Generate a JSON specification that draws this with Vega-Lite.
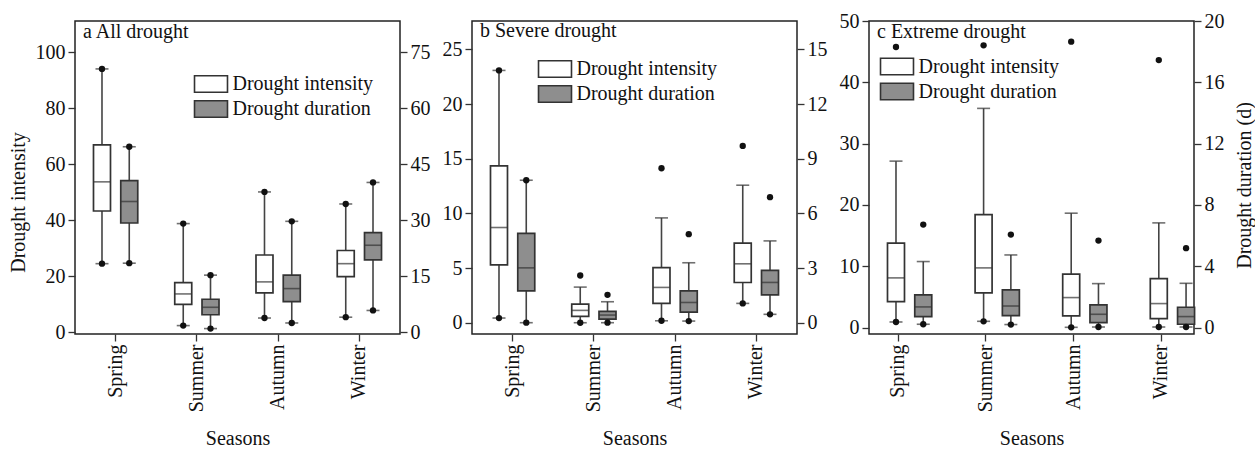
{
"$schema": "https://vega.github.io/schema/vega-lite/v6.json",
"padding": {"left": 7, "top": 10, "right": 0, "bottom": 0},
"background": "white",
"bounds": "flush",
"spacing": 72,
"resolve": {"scale": {"fill": "independent"}, "legend": {"fill": "independent"}},
"datasets": {
"labels": [
{"p":"a","label":"a All drought"},
{"p":"b","label":"b Severe drought"},
{"p":"c","label":"c Extreme drought"}
],
"boxes": [
{"p":"a","season":"Spring","var":"Drought intensity","lo":24.5,"q1":43.3,"med":53.7,"q3":66.9,"hi":94.0},
{"p":"a","season":"Spring","var":"Drought duration","lo":18.5,"q1":29.25,"med":35.0,"q3":40.6,"hi":49.65},
{"p":"a","season":"Summer","var":"Drought intensity","lo":2.4,"q1":10.0,"med":13.7,"q3":17.7,"hi":38.8},
{"p":"a","season":"Summer","var":"Drought duration","lo":1.0,"q1":4.7,"med":6.7,"q3":8.85,"hi":15.3},
{"p":"a","season":"Autumn","var":"Drought intensity","lo":5.1,"q1":14.1,"med":18.0,"q3":27.6,"hi":50.1},
{"p":"a","season":"Autumn","var":"Drought duration","lo":2.5,"q1":8.2,"med":11.7,"q3":15.3,"hi":29.7},
{"p":"a","season":"Winter","var":"Drought intensity","lo":5.4,"q1":19.9,"med":24.5,"q3":29.2,"hi":45.8},
{"p":"a","season":"Winter","var":"Drought duration","lo":5.85,"q1":19.4,"med":23.3,"q3":26.7,"hi":40.1},
{"p":"b","season":"Spring","var":"Drought intensity","lo":0.43,"q1":5.30,"med":8.71,"q3":14.34,"hi":23.08},
{"p":"b","season":"Spring","var":"Drought duration","lo":0.0,"q1":1.75,"med":3.01,"q3":4.90,"hi":7.82},
{"p":"b","season":"Summer","var":"Drought intensity","lo":0.0,"q1":0.58,"med":1.13,"q3":1.71,"hi":3.26},
{"p":"b","season":"Summer","var":"Drought duration","lo":0.0,"q1":0.2,"med":0.42,"q3":0.62,"hi":1.15},
{"p":"b","season":"Autumn","var":"Drought intensity","lo":0.18,"q1":1.77,"med":3.23,"q3":5.05,"hi":9.59},
{"p":"b","season":"Autumn","var":"Drought duration","lo":0.09,"q1":0.58,"med":1.11,"q3":1.75,"hi":3.29},
{"p":"b","season":"Winter","var":"Drought intensity","lo":1.77,"q1":3.68,"med":5.39,"q3":7.28,"hi":12.58},
{"p":"b","season":"Winter","var":"Drought duration","lo":0.46,"q1":1.53,"med":2.21,"q3":2.87,"hi":4.49},
{"p":"c","season":"Spring","var":"Drought intensity","lo":0.92,"q1":4.24,"med":8.11,"q3":13.77,"hi":27.15},
{"p":"c","season":"Spring","var":"Drought duration","lo":0.22,"q1":0.72,"med":1.35,"q3":2.13,"hi":4.31},
{"p":"c","season":"Summer","var":"Drought intensity","lo":1.03,"q1":5.66,"med":9.74,"q3":18.44,"hi":35.75},
{"p":"c","season":"Summer","var":"Drought duration","lo":0.2,"q1":0.78,"med":1.41,"q3":2.46,"hi":4.74},
{"p":"c","season":"Autumn","var":"Drought intensity","lo":0.05,"q1":1.90,"med":4.90,"q3":8.71,"hi":18.66},
{"p":"c","season":"Autumn","var":"Drought duration","lo":0.04,"q1":0.33,"med":0.87,"q3":1.48,"hi":2.87},
{"p":"c","season":"Winter","var":"Drought intensity","lo":0.1,"q1":1.47,"med":3.92,"q3":8.0,"hi":17.08},
{"p":"c","season":"Winter","var":"Drought duration","lo":0.04,"q1":0.22,"med":0.72,"q3":1.33,"hi":2.89}
],
"dots": [
{"p":"a","season":"Spring","var":"Drought intensity","value":24.5},
{"p":"a","season":"Spring","var":"Drought intensity","value":94.0},
{"p":"a","season":"Spring","var":"Drought duration","value":18.5},
{"p":"a","season":"Spring","var":"Drought duration","value":49.65},
{"p":"a","season":"Summer","var":"Drought intensity","value":2.4},
{"p":"a","season":"Summer","var":"Drought intensity","value":38.8},
{"p":"a","season":"Summer","var":"Drought duration","value":1.0},
{"p":"a","season":"Summer","var":"Drought duration","value":15.3},
{"p":"a","season":"Autumn","var":"Drought intensity","value":5.1},
{"p":"a","season":"Autumn","var":"Drought intensity","value":50.1},
{"p":"a","season":"Autumn","var":"Drought duration","value":2.5},
{"p":"a","season":"Autumn","var":"Drought duration","value":29.7},
{"p":"a","season":"Winter","var":"Drought intensity","value":5.4},
{"p":"a","season":"Winter","var":"Drought intensity","value":45.8},
{"p":"a","season":"Winter","var":"Drought duration","value":5.85},
{"p":"a","season":"Winter","var":"Drought duration","value":40.1},
{"p":"b","season":"Spring","var":"Drought intensity","value":0.43},
{"p":"b","season":"Spring","var":"Drought intensity","value":23.08},
{"p":"b","season":"Spring","var":"Drought duration","value":0.0},
{"p":"b","season":"Spring","var":"Drought duration","value":7.82},
{"p":"b","season":"Summer","var":"Drought intensity","value":0.0},
{"p":"b","season":"Summer","var":"Drought intensity","value":4.32},
{"p":"b","season":"Summer","var":"Drought duration","value":0.0},
{"p":"b","season":"Summer","var":"Drought duration","value":1.53},
{"p":"b","season":"Autumn","var":"Drought intensity","value":0.18},
{"p":"b","season":"Autumn","var":"Drought intensity","value":14.13},
{"p":"b","season":"Autumn","var":"Drought duration","value":0.09},
{"p":"b","season":"Autumn","var":"Drought duration","value":4.86},
{"p":"b","season":"Winter","var":"Drought intensity","value":1.77},
{"p":"b","season":"Winter","var":"Drought intensity","value":16.17},
{"p":"b","season":"Winter","var":"Drought duration","value":0.46},
{"p":"b","season":"Winter","var":"Drought duration","value":6.89},
{"p":"c","season":"Spring","var":"Drought intensity","value":0.92},
{"p":"c","season":"Spring","var":"Drought intensity","value":45.76},
{"p":"c","season":"Spring","var":"Drought duration","value":0.22},
{"p":"c","season":"Spring","var":"Drought duration","value":6.72},
{"p":"c","season":"Summer","var":"Drought intensity","value":1.03},
{"p":"c","season":"Summer","var":"Drought intensity","value":46.03},
{"p":"c","season":"Summer","var":"Drought duration","value":0.2},
{"p":"c","season":"Summer","var":"Drought duration","value":6.07},
{"p":"c","season":"Autumn","var":"Drought intensity","value":0.05},
{"p":"c","season":"Autumn","var":"Drought intensity","value":46.63},
{"p":"c","season":"Autumn","var":"Drought duration","value":0.04},
{"p":"c","season":"Autumn","var":"Drought duration","value":5.68},
{"p":"c","season":"Winter","var":"Drought intensity","value":0.1},
{"p":"c","season":"Winter","var":"Drought intensity","value":43.63},
{"p":"c","season":"Winter","var":"Drought duration","value":0.04},
{"p":"c","season":"Winter","var":"Drought duration","value":5.18}
]
},
"hconcat": [
{
"width": 325, "height": 313,
"encoding": {
"x": {"field": "season", "type": "nominal", "sort": null, "scale": {"domain": ["Spring","Summer","Autumn","Winter"], "paddingInner": 0, "paddingOuter": 0}, "axis": {"title": "Seasons", "labelAngle": 270, "titlePadding": 17}},
"xOffset": {"field": "var", "type": "nominal", "sort": null, "scale": {"domain": ["Drought intensity","Drought duration"], "paddingInner": 0, "paddingOuter": 0.49}}
},
"layer": [
{"layer": [
{"data": {"name": "boxes"}, "transform": [{"filter": "datum.p==='a' && datum.var==='Drought intensity'"}], "mark": {"type": "rule", "color": "#444", "strokeWidth": 1.6}, "encoding": {"y": {"field": "lo", "type": "quantitative", "scale": {"domain": [-0.6, 111.1], "nice": false, "zero": false}, "axis": {"orient": "left", "values": [0,20,40,60,80,100], "title": "Drought intensity", "titlePadding": 7, "titleY": 181, "labelFlush": false}}, "y2": {"field": "hi"}}},
{"data": {"name": "boxes"}, "transform": [{"filter": "datum.p==='a' && datum.var==='Drought intensity'"}, {"fold": ["lo","hi"], "as": ["k","value"]}], "mark": {"type": "tick", "color": "#333", "size": 13, "thickness": 1.6}, "encoding": {"y": {"field": "value", "type": "quantitative", "scale": {"domain": [-0.6, 111.1], "nice": false, "zero": false}, "axis": {"orient": "left", "values": [0,20,40,60,80,100], "title": "Drought intensity", "titlePadding": 7, "titleY": 181, "labelFlush": false}}}},
{"data": {"name": "boxes"}, "transform": [{"filter": "datum.p==='a' && datum.var==='Drought intensity'"}], "mark": {"type": "bar", "width": 17, "stroke": "#333", "strokeWidth": 1.7}, "encoding": {"y": {"field": "q1", "type": "quantitative", "scale": {"domain": [-0.6, 111.1], "nice": false, "zero": false}, "axis": {"orient": "left", "values": [0,20,40,60,80,100], "title": "Drought intensity", "titlePadding": 7, "titleY": 181, "labelFlush": false}}, "y2": {"field": "q3"}, "fill": {"field": "var", "type": "nominal", "sort": null, "scale": {"domain": ["Drought intensity","Drought duration"], "range": ["#ffffff","#8e8e8e"]}, "legend": {"orient": "none", "legendX": 126, "legendY": 53, "title": null, "symbolType": "M-2,-1H2V1H-2Z", "symbolSize": 272, "symbolStrokeColor": "#333", "symbolStrokeWidth": 1.6, "rowPadding": 1, "labelOffset": 11.5, "padding": 0}}}},
{"data": {"name": "boxes"}, "transform": [{"filter": "datum.p==='a' && datum.var==='Drought intensity'"}], "mark": {"type": "tick", "color": "#333", "size": 17, "thickness": 1.6}, "encoding": {"y": {"field": "med", "type": "quantitative", "scale": {"domain": [-0.6, 111.1], "nice": false, "zero": false}, "axis": {"orient": "left", "values": [0,20,40,60,80,100], "title": "Drought intensity", "titlePadding": 7, "titleY": 181, "labelFlush": false}}}},
{"data": {"name": "dots"}, "transform": [{"filter": "datum.p==='a' && datum.var==='Drought intensity'"}], "mark": {"type": "point", "filled": true, "color": "#111", "size": 40, "opacity": 1}, "encoding": {"y": {"field": "value", "type": "quantitative", "scale": {"domain": [-0.6, 111.1], "nice": false, "zero": false}, "axis": {"orient": "left", "values": [0,20,40,60,80,100], "title": "Drought intensity", "titlePadding": 7, "titleY": 181, "labelFlush": false}}}},
{"data": {"name": "labels"}, "transform": [{"filter": "datum.p==='a'"}], "mark": {"type": "text", "align": "left", "baseline": "alphabetic", "dx": 8, "dy": 17, "fontSize": 20, "font": "Liberation Serif", "color": "#111"}, "encoding": {"x": {"datum": "Spring", "bandPosition": 0, "scale": {"domain": ["Spring","Summer","Autumn","Winter"], "paddingInner": 0, "paddingOuter": 0}, "axis": {"title": "Seasons", "labelAngle": 270, "titlePadding": 17}}, "xOffset": {"value": 0}, "y": {"datum": 111.1, "type": "quantitative", "scale": {"domain": [-0.6, 111.1], "nice": false, "zero": false}, "axis": {"orient": "left", "values": [0,20,40,60,80,100], "title": "Drought intensity", "titlePadding": 7, "titleY": 181, "labelFlush": false}}, "text": {"field": "label"}}}
]},
{"layer": [
{"data": {"name": "boxes"}, "transform": [{"filter": "datum.p==='a' && datum.var==='Drought duration'"}], "mark": {"type": "rule", "color": "#444", "strokeWidth": 1.6}, "encoding": {"y": {"field": "lo", "type": "quantitative", "scale": {"domain": [-0.45, 83.3], "nice": false, "zero": false}, "axis": {"orient": "right", "values": [0,15,30,45,60,75], "title": null, "labelFlush": false}}, "y2": {"field": "hi"}}},
{"data": {"name": "boxes"}, "transform": [{"filter": "datum.p==='a' && datum.var==='Drought duration'"}, {"fold": ["lo","hi"], "as": ["k","value"]}], "mark": {"type": "tick", "color": "#333", "size": 13, "thickness": 1.6}, "encoding": {"y": {"field": "value", "type": "quantitative", "scale": {"domain": [-0.45, 83.3], "nice": false, "zero": false}, "axis": {"orient": "right", "values": [0,15,30,45,60,75], "title": null, "labelFlush": false}}}},
{"data": {"name": "boxes"}, "transform": [{"filter": "datum.p==='a' && datum.var==='Drought duration'"}], "mark": {"type": "bar", "width": 17, "stroke": "#333", "strokeWidth": 1.7}, "encoding": {"y": {"field": "q1", "type": "quantitative", "scale": {"domain": [-0.45, 83.3], "nice": false, "zero": false}, "axis": {"orient": "right", "values": [0,15,30,45,60,75], "title": null, "labelFlush": false}}, "y2": {"field": "q3"}, "fill": {"field": "var", "type": "nominal", "sort": null, "scale": {"domain": ["Drought intensity","Drought duration"], "range": ["#ffffff","#8e8e8e"]}, "legend": {"orient": "none", "legendX": 126, "legendY": 53, "title": null, "symbolType": "M-2,-1H2V1H-2Z", "symbolSize": 272, "symbolStrokeColor": "#333", "symbolStrokeWidth": 1.6, "rowPadding": 1, "labelOffset": 11.5, "padding": 0}}}},
{"data": {"name": "boxes"}, "transform": [{"filter": "datum.p==='a' && datum.var==='Drought duration'"}], "mark": {"type": "tick", "color": "#333", "size": 17, "thickness": 1.6}, "encoding": {"y": {"field": "med", "type": "quantitative", "scale": {"domain": [-0.45, 83.3], "nice": false, "zero": false}, "axis": {"orient": "right", "values": [0,15,30,45,60,75], "title": null, "labelFlush": false}}}},
{"data": {"name": "dots"}, "transform": [{"filter": "datum.p==='a' && datum.var==='Drought duration'"}], "mark": {"type": "point", "filled": true, "color": "#111", "size": 40, "opacity": 1}, "encoding": {"y": {"field": "value", "type": "quantitative", "scale": {"domain": [-0.45, 83.3], "nice": false, "zero": false}, "axis": {"orient": "right", "values": [0,15,30,45,60,75], "title": null, "labelFlush": false}}}}
]}
],
"resolve": {"scale": {"y": "independent"}}
},
{
"width": 325, "height": 313,
"encoding": {
"x": {"field": "season", "type": "nominal", "sort": null, "scale": {"domain": ["Spring","Summer","Autumn","Winter"], "paddingInner": 0, "paddingOuter": 0}, "axis": {"title": "Seasons", "labelAngle": 270, "titlePadding": 17}},
"xOffset": {"field": "var", "type": "nominal", "sort": null, "scale": {"domain": ["Drought intensity","Drought duration"], "paddingInner": 0, "paddingOuter": 0.49}}
},
"layer": [
{"layer": [
{"data": {"name": "boxes"}, "transform": [{"filter": "datum.p==='b' && datum.var==='Drought intensity'"}], "mark": {"type": "rule", "color": "#444", "strokeWidth": 1.6}, "encoding": {"y": {"field": "lo", "type": "quantitative", "scale": {"domain": [-1.03, 27.6], "nice": false, "zero": false}, "axis": {"orient": "left", "values": [0,5,10,15,20,25], "title": null, "labelFlush": false}}, "y2": {"field": "hi"}}},
{"data": {"name": "boxes"}, "transform": [{"filter": "datum.p==='b' && datum.var==='Drought intensity'"}, {"fold": ["lo","hi"], "as": ["k","value"]}], "mark": {"type": "tick", "color": "#333", "size": 13, "thickness": 1.6}, "encoding": {"y": {"field": "value", "type": "quantitative", "scale": {"domain": [-1.03, 27.6], "nice": false, "zero": false}, "axis": {"orient": "left", "values": [0,5,10,15,20,25], "title": null, "labelFlush": false}}}},
{"data": {"name": "boxes"}, "transform": [{"filter": "datum.p==='b' && datum.var==='Drought intensity'"}], "mark": {"type": "bar", "width": 17, "stroke": "#333", "strokeWidth": 1.7}, "encoding": {"y": {"field": "q1", "type": "quantitative", "scale": {"domain": [-1.03, 27.6], "nice": false, "zero": false}, "axis": {"orient": "left", "values": [0,5,10,15,20,25], "title": null, "labelFlush": false}}, "y2": {"field": "q3"}, "fill": {"field": "var", "type": "nominal", "sort": null, "scale": {"domain": ["Drought intensity","Drought duration"], "range": ["#ffffff","#8e8e8e"]}, "legend": {"orient": "none", "legendX": 73, "legendY": 38, "title": null, "symbolType": "M-2,-1H2V1H-2Z", "symbolSize": 272, "symbolStrokeColor": "#333", "symbolStrokeWidth": 1.6, "rowPadding": 1, "labelOffset": 11.5, "padding": 0}}}},
{"data": {"name": "boxes"}, "transform": [{"filter": "datum.p==='b' && datum.var==='Drought intensity'"}], "mark": {"type": "tick", "color": "#333", "size": 17, "thickness": 1.6}, "encoding": {"y": {"field": "med", "type": "quantitative", "scale": {"domain": [-1.03, 27.6], "nice": false, "zero": false}, "axis": {"orient": "left", "values": [0,5,10,15,20,25], "title": null, "labelFlush": false}}}},
{"data": {"name": "dots"}, "transform": [{"filter": "datum.p==='b' && datum.var==='Drought intensity'"}], "mark": {"type": "point", "filled": true, "color": "#111", "size": 40, "opacity": 1}, "encoding": {"y": {"field": "value", "type": "quantitative", "scale": {"domain": [-1.03, 27.6], "nice": false, "zero": false}, "axis": {"orient": "left", "values": [0,5,10,15,20,25], "title": null, "labelFlush": false}}}},
{"data": {"name": "labels"}, "transform": [{"filter": "datum.p==='b'"}], "mark": {"type": "text", "align": "left", "baseline": "alphabetic", "dx": 8, "dy": 16, "fontSize": 20, "font": "Liberation Serif", "color": "#111"}, "encoding": {"x": {"datum": "Spring", "bandPosition": 0, "scale": {"domain": ["Spring","Summer","Autumn","Winter"], "paddingInner": 0, "paddingOuter": 0}, "axis": {"title": "Seasons", "labelAngle": 270, "titlePadding": 17}}, "xOffset": {"value": 0}, "y": {"datum": 27.6, "type": "quantitative", "scale": {"domain": [-1.03, 27.6], "nice": false, "zero": false}, "axis": {"orient": "left", "values": [0,5,10,15,20,25], "title": null, "labelFlush": false}}, "text": {"field": "label"}}}
]},
{"layer": [
{"data": {"name": "boxes"}, "transform": [{"filter": "datum.p==='b' && datum.var==='Drought duration'"}], "mark": {"type": "rule", "color": "#444", "strokeWidth": 1.6}, "encoding": {"y": {"field": "lo", "type": "quantitative", "scale": {"domain": [-0.62, 16.56], "nice": false, "zero": false}, "axis": {"orient": "right", "values": [0,3,6,9,12,15], "title": null, "labelFlush": false}}, "y2": {"field": "hi"}}},
{"data": {"name": "boxes"}, "transform": [{"filter": "datum.p==='b' && datum.var==='Drought duration'"}, {"fold": ["lo","hi"], "as": ["k","value"]}], "mark": {"type": "tick", "color": "#333", "size": 13, "thickness": 1.6}, "encoding": {"y": {"field": "value", "type": "quantitative", "scale": {"domain": [-0.62, 16.56], "nice": false, "zero": false}, "axis": {"orient": "right", "values": [0,3,6,9,12,15], "title": null, "labelFlush": false}}}},
{"data": {"name": "boxes"}, "transform": [{"filter": "datum.p==='b' && datum.var==='Drought duration'"}], "mark": {"type": "bar", "width": 17, "stroke": "#333", "strokeWidth": 1.7}, "encoding": {"y": {"field": "q1", "type": "quantitative", "scale": {"domain": [-0.62, 16.56], "nice": false, "zero": false}, "axis": {"orient": "right", "values": [0,3,6,9,12,15], "title": null, "labelFlush": false}}, "y2": {"field": "q3"}, "fill": {"field": "var", "type": "nominal", "sort": null, "scale": {"domain": ["Drought intensity","Drought duration"], "range": ["#ffffff","#8e8e8e"]}, "legend": {"orient": "none", "legendX": 73, "legendY": 38, "title": null, "symbolType": "M-2,-1H2V1H-2Z", "symbolSize": 272, "symbolStrokeColor": "#333", "symbolStrokeWidth": 1.6, "rowPadding": 1, "labelOffset": 11.5, "padding": 0}}}},
{"data": {"name": "boxes"}, "transform": [{"filter": "datum.p==='b' && datum.var==='Drought duration'"}], "mark": {"type": "tick", "color": "#333", "size": 17, "thickness": 1.6}, "encoding": {"y": {"field": "med", "type": "quantitative", "scale": {"domain": [-0.62, 16.56], "nice": false, "zero": false}, "axis": {"orient": "right", "values": [0,3,6,9,12,15], "title": null, "labelFlush": false}}}},
{"data": {"name": "dots"}, "transform": [{"filter": "datum.p==='b' && datum.var==='Drought duration'"}], "mark": {"type": "point", "filled": true, "color": "#111", "size": 40, "opacity": 1}, "encoding": {"y": {"field": "value", "type": "quantitative", "scale": {"domain": [-0.62, 16.56], "nice": false, "zero": false}, "axis": {"orient": "right", "values": [0,3,6,9,12,15], "title": null, "labelFlush": false}}}}
]}
],
"resolve": {"scale": {"y": "independent"}}
},
{
"width": 325, "height": 313,
"encoding": {
"x": {"field": "season", "type": "nominal", "sort": null, "scale": {"domain": ["Spring","Summer","Autumn","Winter"], "paddingInner": 0.33, "paddingOuter": 0.02, "align": 0}, "axis": {"title": "Seasons", "labelAngle": 270, "titlePadding": 17}},
"xOffset": {"field": "var", "type": "nominal", "sort": null, "scale": {"domain": ["Drought intensity","Drought duration"], "paddingInner": 0, "paddingOuter": 0.012}}
},
"layer": [
{"layer": [
{"data": {"name": "boxes"}, "transform": [{"filter": "datum.p==='c' && datum.var==='Drought intensity'"}], "mark": {"type": "rule", "color": "#444", "strokeWidth": 1.6}, "encoding": {"y": {"field": "lo", "type": "quantitative", "scale": {"domain": [-1.04, 50], "nice": false, "zero": false}, "axis": {"orient": "left", "values": [0,10,20,30,40,50], "title": null, "labelFlush": false}}, "y2": {"field": "hi"}}},
{"data": {"name": "boxes"}, "transform": [{"filter": "datum.p==='c' && datum.var==='Drought intensity'"}, {"fold": ["lo","hi"], "as": ["k","value"]}], "mark": {"type": "tick", "color": "#333", "size": 13, "thickness": 1.6}, "encoding": {"y": {"field": "value", "type": "quantitative", "scale": {"domain": [-1.04, 50], "nice": false, "zero": false}, "axis": {"orient": "left", "values": [0,10,20,30,40,50], "title": null, "labelFlush": false}}}},
{"data": {"name": "boxes"}, "transform": [{"filter": "datum.p==='c' && datum.var==='Drought intensity'"}], "mark": {"type": "bar", "width": 17, "stroke": "#333", "strokeWidth": 1.7}, "encoding": {"y": {"field": "q1", "type": "quantitative", "scale": {"domain": [-1.04, 50], "nice": false, "zero": false}, "axis": {"orient": "left", "values": [0,10,20,30,40,50], "title": null, "labelFlush": false}}, "y2": {"field": "q3"}, "fill": {"field": "var", "type": "nominal", "sort": null, "scale": {"domain": ["Drought intensity","Drought duration"], "range": ["#ffffff","#8e8e8e"]}, "legend": {"orient": "none", "legendX": 18, "legendY": 35.5, "title": null, "symbolType": "M-2,-1H2V1H-2Z", "symbolSize": 272, "symbolStrokeColor": "#333", "symbolStrokeWidth": 1.6, "rowPadding": 1, "labelOffset": 11.5, "padding": 0}}}},
{"data": {"name": "boxes"}, "transform": [{"filter": "datum.p==='c' && datum.var==='Drought intensity'"}], "mark": {"type": "tick", "color": "#333", "size": 17, "thickness": 1.6}, "encoding": {"y": {"field": "med", "type": "quantitative", "scale": {"domain": [-1.04, 50], "nice": false, "zero": false}, "axis": {"orient": "left", "values": [0,10,20,30,40,50], "title": null, "labelFlush": false}}}},
{"data": {"name": "dots"}, "transform": [{"filter": "datum.p==='c' && datum.var==='Drought intensity'"}], "mark": {"type": "point", "filled": true, "color": "#111", "size": 40, "opacity": 1}, "encoding": {"y": {"field": "value", "type": "quantitative", "scale": {"domain": [-1.04, 50], "nice": false, "zero": false}, "axis": {"orient": "left", "values": [0,10,20,30,40,50], "title": null, "labelFlush": false}}}},
{"data": {"name": "labels"}, "transform": [{"filter": "datum.p==='c'"}], "mark": {"type": "text", "align": "left", "baseline": "alphabetic", "dx": 8, "dy": 17, "fontSize": 20, "font": "Liberation Serif", "color": "#111"}, "encoding": {"x": {"datum": "Spring", "bandPosition": 0, "scale": {"domain": ["Spring","Summer","Autumn","Winter"], "paddingInner": 0.33, "paddingOuter": 0.02, "align": 0}, "axis": {"title": "Seasons", "labelAngle": 270, "titlePadding": 17}}, "xOffset": {"value": 0}, "y": {"datum": 50, "type": "quantitative", "scale": {"domain": [-1.04, 50], "nice": false, "zero": false}, "axis": {"orient": "left", "values": [0,10,20,30,40,50], "title": null, "labelFlush": false}}, "text": {"field": "label"}}}
]},
{"layer": [
{"data": {"name": "boxes"}, "transform": [{"filter": "datum.p==='c' && datum.var==='Drought duration'"}], "mark": {"type": "rule", "color": "#444", "strokeWidth": 1.6}, "encoding": {"y": {"field": "lo", "type": "quantitative", "scale": {"domain": [-0.416, 20], "nice": false, "zero": false}, "axis": {"orient": "right", "values": [0,4,8,12,16,20], "title": "Drought duration (d)", "titleAngle": 270, "titleBaseline": "top", "titlePadding": 10, "titleY": 164, "labelFlush": false}}, "y2": {"field": "hi"}}},
{"data": {"name": "boxes"}, "transform": [{"filter": "datum.p==='c' && datum.var==='Drought duration'"}, {"fold": ["lo","hi"], "as": ["k","value"]}], "mark": {"type": "tick", "color": "#333", "size": 13, "thickness": 1.6}, "encoding": {"y": {"field": "value", "type": "quantitative", "scale": {"domain": [-0.416, 20], "nice": false, "zero": false}, "axis": {"orient": "right", "values": [0,4,8,12,16,20], "title": "Drought duration (d)", "titleAngle": 270, "titleBaseline": "top", "titlePadding": 10, "titleY": 164, "labelFlush": false}}}},
{"data": {"name": "boxes"}, "transform": [{"filter": "datum.p==='c' && datum.var==='Drought duration'"}], "mark": {"type": "bar", "width": 17, "stroke": "#333", "strokeWidth": 1.7}, "encoding": {"y": {"field": "q1", "type": "quantitative", "scale": {"domain": [-0.416, 20], "nice": false, "zero": false}, "axis": {"orient": "right", "values": [0,4,8,12,16,20], "title": "Drought duration (d)", "titleAngle": 270, "titleBaseline": "top", "titlePadding": 10, "titleY": 164, "labelFlush": false}}, "y2": {"field": "q3"}, "fill": {"field": "var", "type": "nominal", "sort": null, "scale": {"domain": ["Drought intensity","Drought duration"], "range": ["#ffffff","#8e8e8e"]}, "legend": {"orient": "none", "legendX": 18, "legendY": 35.5, "title": null, "symbolType": "M-2,-1H2V1H-2Z", "symbolSize": 272, "symbolStrokeColor": "#333", "symbolStrokeWidth": 1.6, "rowPadding": 1, "labelOffset": 11.5, "padding": 0}}}},
{"data": {"name": "boxes"}, "transform": [{"filter": "datum.p==='c' && datum.var==='Drought duration'"}], "mark": {"type": "tick", "color": "#333", "size": 17, "thickness": 1.6}, "encoding": {"y": {"field": "med", "type": "quantitative", "scale": {"domain": [-0.416, 20], "nice": false, "zero": false}, "axis": {"orient": "right", "values": [0,4,8,12,16,20], "title": "Drought duration (d)", "titleAngle": 270, "titleBaseline": "top", "titlePadding": 10, "titleY": 164, "labelFlush": false}}}},
{"data": {"name": "dots"}, "transform": [{"filter": "datum.p==='c' && datum.var==='Drought duration'"}], "mark": {"type": "point", "filled": true, "color": "#111", "size": 40, "opacity": 1}, "encoding": {"y": {"field": "value", "type": "quantitative", "scale": {"domain": [-0.416, 20], "nice": false, "zero": false}, "axis": {"orient": "right", "values": [0,4,8,12,16,20], "title": "Drought duration (d)", "titleAngle": 270, "titleBaseline": "top", "titlePadding": 10, "titleY": 164, "labelFlush": false}}}}
]}
],
"resolve": {"scale": {"y": "independent"}}
}
],
"config": {
"font": "Liberation Serif",
"view": {"stroke": "#222", "strokeWidth": 1.5},
"axis": {"labelFont": "Liberation Serif", "titleFont": "Liberation Serif", "labelFontSize": 20, "titleFontSize": 20, "titleFontWeight": "normal", "labelColor": "#111", "titleColor": "#111", "tickColor": "#333", "tickSize": 7, "tickWidth": 1.3, "grid": false, "domain": false, "labelPadding": 3},
"legend": {"labelFont": "Liberation Serif", "labelFontSize": 20, "labelColor": "#111"}
}
}
